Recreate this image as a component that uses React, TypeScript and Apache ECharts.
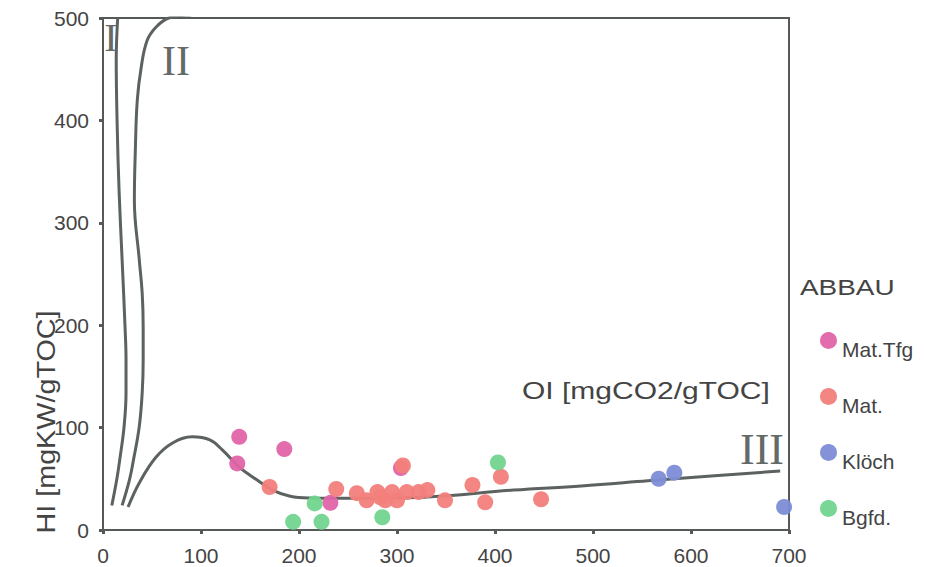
import React, { useEffect, useRef } from "react";
import * as echarts from "echarts";

const xTicks = [0, 100, 200, 300, 400, 500, 600, 700];
const yTicks = [0, 100, 200, 300, 400, 500];

const curveI: [number, number][] = [
  [9, 24], [14, 49], [17, 68], [21.5, 101], [23.5, 134], [23.5, 166], [22.5, 198],
  [19.5, 264], [16.5, 329], [14.5, 394], [13.5, 459], [15, 500],
];
const curveII: [number, number][] = [
  [19.5, 24], [27, 49], [31, 68], [37, 101], [40, 134], [41, 166], [41, 198],
  [40, 231], [37, 264], [32, 322], [33, 371], [35, 420], [39, 452], [45, 478],
  [54, 491], [67, 500], [90, 503],
];
const curveIII: [number, number][] = [
  [25.6, 22.5], [37, 46], [54, 71], [71, 85], [91, 91], [109, 88], [122, 78],
  [139, 61.5], [157, 49], [173, 39], [191, 33], [211, 31.3], [259, 31], [327, 32],
  [419, 39], [488, 43], [556, 48], [624, 53], [691, 57.6],
];

const matTfg: [number, number][] = [
  [139, 91], [137, 65], [185, 79], [232, 26.5], [304, 60.5],
];
const mat: [number, number][] = [
  [170, 42], [238, 40], [259, 36], [269, 29], [280, 37], [283, 32], [288, 29],
  [295, 37], [300, 29], [306, 63], [310, 37], [322, 37], [331, 39], [349, 29],
  [377, 44], [390, 27], [406, 52], [447, 30],
];
const kloech: [number, number][] = [
  [567, 50], [583, 56], [695, 22.5],
];
const bgfd: [number, number][] = [
  [216, 26], [194, 8], [223, 8], [285, 12.5], [403, 66],
];

const seriesNames = ["Mat.Tfg", "Mat.", "Klöch", "Bgfd."];
const seriesColors = ["#e064a8", "#f27f7b", "#7d8dd6", "#72d48e"];

const SANS = "Liberation Sans, Arial, sans-serif";
const SERIF = "Liberation Serif, Times New Roman, serif";

export default function App() {
  const ref = useRef<HTMLDivElement>(null);
  useEffect(() => {
    if (!ref.current) return;
    const chart = echarts.init(ref.current, null, { renderer: "svg" });
    const curveStyle = { color: "#5b625f", width: 3 };
    const mkCurve = (d: [number, number][]) => ({
      type: "line",
      data: d,
      smooth: 0.4,
      symbol: "none",
      lineStyle: curveStyle,
      silent: true,
      z: 3,
    });
    const datasets = [matTfg, mat, kloech, bgfd];
    const axisColor = "#555a58";
    chart.setOption({
      animation: false,
      backgroundColor: "#ffffff",
      grid: {
        left: 103,
        right: 136,
        top: 18,
        bottom: 37,
        show: true,
        borderColor: axisColor,
        borderWidth: 2,
      },
      xAxis: {
        type: "value",
        min: xTicks[0],
        max: xTicks[xTicks.length - 1],
        interval: 100,
        axisLine: { show: true, lineStyle: { color: axisColor, width: 2 } },
        axisTick: { show: true, inside: false, length: 4, lineStyle: { color: axisColor, width: 3 } },
        splitLine: { show: false },
        axisLabel: { color: "#444", fontSize: 21, fontFamily: SANS, margin: 15 },
      },
      yAxis: {
        type: "value",
        min: yTicks[0],
        max: yTicks[yTicks.length - 1],
        interval: 100,
        axisLine: { show: true, lineStyle: { color: axisColor, width: 2 } },
        axisTick: { show: true, inside: false, length: 4, lineStyle: { color: axisColor, width: 3 } },
        splitLine: { show: false },
        axisLabel: { color: "#444", fontSize: 21, fontFamily: SANS, margin: 14 },
      },
      legend: {
        orient: "vertical",
        left: 815,
        top: 327,
        icon: "circle",
        itemWidth: 17,
        itemHeight: 17,
        itemGap: 28,
        data: seriesNames,
        formatter: "{t|{name}}",
        textStyle: {
          color: "#444",
          fontSize: 21,
          fontFamily: SANS,
          rich: {
            t: { color: "#444", fontSize: 21, fontFamily: SANS, padding: [18, 0, 0, 0] },
          },
        },
      },
      graphic: [
        {
          type: "text",
          x: 800,
          y: 287,
          scaleX: 1.27,
          style: { text: "ABBAU", fill: "#444", fontSize: 22, fontFamily: SANS, verticalAlign: "middle" },
        },
        {
          type: "text",
          x: 47,
          y: 422,
          rotation: Math.PI / 2,
          scaleX: 1.15,
          style: {
            text: "HI [mgKW/gTOC]",
            fill: "#444",
            fontSize: 25,
            fontFamily: SANS,
            align: "center",
            verticalAlign: "middle",
          },
        },
        {
          type: "text",
          x: 522,
          y: 391,
          scaleX: 1.25,
          style: {
            text: "OI [mgCO2/gTOC]",
            fill: "#444",
            fontSize: 24,
            fontFamily: SANS,
            verticalAlign: "middle",
          },
        },
        {
          type: "text",
          x: 111,
          y: 37,
          style: { text: "I", fill: "#646a67", fontSize: 40, fontFamily: SERIF, align: "center", verticalAlign: "middle" },
        },
        {
          type: "text",
          x: 176,
          y: 61,
          style: { text: "II", fill: "#646a67", fontSize: 42, fontFamily: SERIF, align: "center", verticalAlign: "middle" },
        },
        {
          type: "text",
          x: 762,
          y: 449,
          style: { text: "III", fill: "#646a67", fontSize: 44, fontFamily: SERIF, align: "center", verticalAlign: "middle" },
        },
      ],
      series: [
        mkCurve(curveI),
        mkCurve(curveII),
        mkCurve(curveIII),
        ...datasets.map((d, i) => ({
          name: seriesNames[i],
          type: "scatter",
          data: d,
          symbol: "circle",
          symbolSize: 16,
          itemStyle: { color: seriesColors[i], opacity: 0.95 },
          z: 4,
        })),
      ],
    });
    return () => chart.dispose();
  }, []);
  return (
    <div
      ref={ref}
      style={{ position: "fixed", left: 0, top: 0, width: 925, height: 567, background: "#fff" }}
    />
  );
}
